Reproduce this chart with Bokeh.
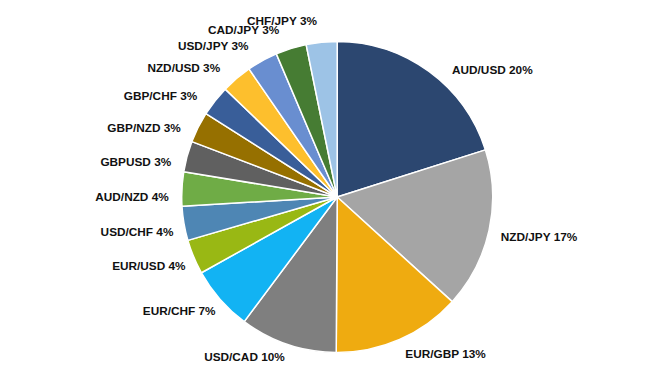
import math
from bokeh.plotting import figure
from bokeh.models import Range1d, ColumnDataSource
from bokeh.core.properties import value
from bokeh.embed import file_html
from bokeh.resources import INLINE

# ---- data ----
pairs = ["AUD/USD", "NZD/JPY", "EUR/GBP", "USD/CAD", "EUR/CHF", "EUR/USD", "USD/CHF",
         "AUD/NZD", "GBPUSD", "GBP/NZD", "GBP/CHF", "NZD/USD", "USD/JPY", "CAD/JPY", "CHF/JPY"]
shares = [20.1, 16.65, 13.35, 10.1, 6.7, 3.6, 3.55, 3.55, 3.2, 3.2, 3.2, 3.2, 3.2, 3.2, 3.2]

# ---- styles / layout ----
colors = ["#2C4770", "#A5A5A5", "#EFAB10", "#7F7F7F", "#12B3F3", "#99B814", "#4E86B4",
          "#6FAC46", "#606060", "#967000", "#395E99", "#FDBF2D", "#698ED0", "#467C33", "#9DC3E6"]
label_nudge_deg = [14.5, -1, -11, 11.5, 5.5, 2.5, 0, -3, -5.3, -7, -8.5, -9.7, -10.5, -12.0, -11.6]

W, H = 654, 368
CX, CY = 336.7, H - 196.5
R = 155.5
FS = 11.8
GAP = 13

ARIAL_BOLD = {"A": 722, "U": 722, "D": 722, "S": 667, "N": 722, "Z": 611, "J": 556, "P": 667,
              "Y": 667, "E": 667, "G": 778, "B": 722, "C": 722, "H": 722, "F": 611, "R": 722,
              "/": 278, " ": 278, "%": 889}

def text_width(s):
    return sum(ARIAL_BOLD.get(ch, 556) for ch in s) / 1000.0 * FS

total = sum(shares)
starts, ends, mids = [], [], []
acc = 0.0
for v in shares:
    a0 = acc / total * 360.0
    acc += v
    a1 = acc / total * 360.0
    starts.append(math.radians(90 - a0))
    ends.append(math.radians(90 - a1))
    mids.append((a0 + a1) / 2)

labels = [f"{p} {round(v / total * 100)}%" for p, v in zip(pairs, shares)]

lx, ly = [], []
for lab, m, nd in zip(labels, mids, label_nudge_deg):
    psi = math.radians(m + nd)
    s, c = math.sin(psi), math.cos(psi)
    hw = text_width(lab) / 2
    hh = 6
    ext = hw * abs(s) + hh * abs(c)
    gap = GAP + 7 * min(0.0, c) - 6 * max(0.0, s * c)
    d = R + gap + ext
    lx.append(CX + d * s)
    ly.append(CY + d * c)

src = ColumnDataSource(dict(start=starts, end=ends, color=colors))
lsrc = ColumnDataSource(dict(x=lx, y=ly, text=labels))

p = figure(width=W, height=H, x_range=Range1d(0, W), y_range=Range1d(0, H),
           output_backend="svg", toolbar_location=None, min_border=0,
           x_axis_location=None, y_axis_location=None)
p.grid.visible = False
p.outline_line_color = None
p.background_fill_color = "white"
p.border_fill_color = "white"

p.wedge(x=CX, y=CY, radius=R, start_angle="start", end_angle="end", direction="clock",
        fill_color="color", line_color="white", line_width=1.5, source=src)

p.text(x="x", y="y", text="text", source=lsrc, text_align="center", text_baseline="middle",
       text_font=value("Liberation Sans"), text_font_style="bold",
       text_font_size=f"{FS}px", text_color="#111111")

open("out.html", "w").write(file_html(p, INLINE))
